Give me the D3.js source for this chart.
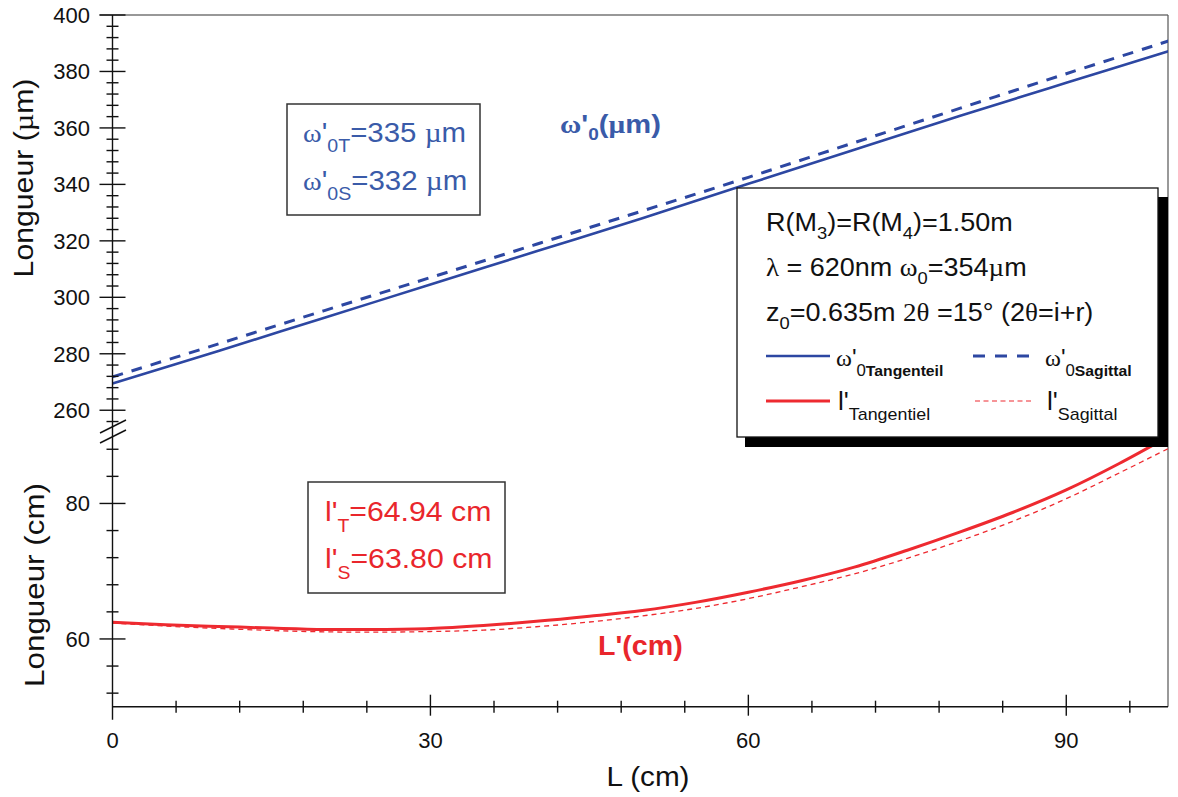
<!DOCTYPE html>
<html><head><meta charset="utf-8">
<script src="https://cdn.jsdelivr.net/npm/d3@7"></script>
<style>body{margin:0;background:#fff}svg{display:block}text{font-family:"Liberation Sans",Arial,sans-serif}</style>
</head><body>
<svg id="c" width="1178" height="797"></svg>
<script>
// ---- data ----
const Lw = [0,10,20,30,40,50,60,70,80,90,100];
const wTang = [269.5,281.0,292.8,304.5,316.3,328.0,340.2,352.3,364.3,376.0,387.6];
const wSag  = [271.8,283.5,295.3,307.0,318.8,330.6,342.5,354.8,367.0,379.2,391.2];
const Ll = [0,5,10,15,20,25,30,35,40,45,50,55,60,65,70,75,80,85,90,95,100];
const lTang = [62.45,62.1,61.85,61.6,61.4,61.4,61.55,62.0,62.6,63.35,64.2,65.4,66.9,68.6,70.6,73.1,75.8,78.7,82.0,85.9,90.2];
const lSag  = [62.35,61.9,61.55,61.25,61.05,61.0,61.1,61.3,61.8,62.5,63.4,64.5,65.95,67.7,69.6,71.9,74.5,77.4,80.7,84.5,88.4];
const xMajor = [0,30,60,90];
const xMinor = [6,12,18,24,36,42,48,54,66,72,78,84,96];
const yUMajor = [260,280,300,320,340,360,380,400];
const yUMinor = [256,264,268,272,276,284,288,292,296,304,308,312,316,324,328,332,336,344,348,352,356,364,368,372,376,384,388,392,396];
const yLMajor = [60,80];
const yLMinor = [52,56,64,68,72,76,84,88];

const BLUE = "#2d47a2", BLUET = "#3a5ba9", RED = "#ee2a30", REDT = "#e9262c";
const svg = d3.select("#c");
const x = d3.scaleLinear([0,99.6],[112.5,1168]);
const yU = d3.scaleLinear([253,400],[430,15]);
const yL = d3.scaleLinear([50,90.4],[706.7,433]);
const X0 = x(0), X1 = x(99.6), YT = yU(400), YB = yL(50);

svg.append("defs").append("clipPath").attr("id","pc").append("rect")
  .attr("x",X0).attr("y",YT).attr("width",X1-X0).attr("height",YB-YT);

// frame
svg.append("line").attr("x1",X0-13).attr("x2",X1).attr("y1",YT).attr("y2",YT).attr("stroke","#333").attr("stroke-width",1.2);
svg.append("line").attr("x1",X1).attr("x2",X1).attr("y1",YT).attr("y2",YB).attr("stroke","#555").attr("stroke-width",1.2);

// curves
const g = svg.append("g").attr("clip-path","url(#pc)");
const lineU = d3.line().x(d=>x(d[0])).y(d=>yU(d[1])).curve(d3.curveCatmullRom);
const lineL = d3.line().x(d=>x(d[0])).y(d=>yL(d[1])).curve(d3.curveCatmullRom);
g.append("path").attr("d",lineU(Lw.map((l,i)=>[l,wTang[i]]))).attr("fill","none").attr("stroke",BLUE).attr("stroke-width",2.6);
g.append("path").attr("d",lineU(Lw.map((l,i)=>[l,wSag[i]]))).attr("fill","none").attr("stroke",BLUE).attr("stroke-width",3).attr("stroke-dasharray","11,9");
g.append("path").attr("d",lineL(Ll.map((l,i)=>[l,lTang[i]]))).attr("fill","none").attr("stroke",RED).attr("stroke-width",3);
g.append("path").attr("d",lineL(Ll.map((l,i)=>[l,lSag[i]]))).attr("fill","none").attr("stroke",RED).attr("stroke-width",1.3).attr("stroke-dasharray","5,4");

// axes
const ax = svg.append("g").attr("stroke","#111").attr("stroke-width",1.4);
ax.append("line").attr("x1",X0).attr("x2",X0).attr("y1",YT).attr("y2",YB+13);
ax.append("line").attr("x1",X0).attr("x2",X1).attr("y1",YB).attr("y2",YB);
yUMajor.forEach(v=>ax.append("line").attr("x1",X0-13).attr("x2",X0+13).attr("y1",yU(v)).attr("y2",yU(v)));
yUMinor.forEach(v=>ax.append("line").attr("x1",X0-6).attr("x2",X0+6).attr("y1",yU(v)).attr("y2",yU(v)));
yLMajor.forEach(v=>ax.append("line").attr("x1",X0-13).attr("x2",X0+13).attr("y1",yL(v)).attr("y2",yL(v)));
yLMinor.forEach(v=>ax.append("line").attr("x1",X0-6).attr("x2",X0+6).attr("y1",yL(v)).attr("y2",yL(v)));
xMajor.filter(v=>v>0).forEach(v=>ax.append("line").attr("x1",x(v)).attr("x2",x(v)).attr("y1",YB-12).attr("y2",YB+9));
xMinor.forEach(v=>ax.append("line").attr("x1",x(v)).attr("x2",x(v)).attr("y1",YB-6).attr("y2",YB+6));
// break marks
ax.append("line").attr("x1",100).attr("y1",433).attr("x2",126).attr("y2",420);
ax.append("line").attr("x1",100).attr("y1",443).attr("x2",126).attr("y2",430);

const tl = svg.append("g").attr("font-size",22).attr("fill","#111");
yUMajor.forEach(v=>tl.append("text").attr("x",90).attr("y",yU(v)+8).attr("text-anchor","end").text(v));
yLMajor.forEach(v=>tl.append("text").attr("x",90).attr("y",yL(v)+8).attr("text-anchor","end").text(v));
xMajor.forEach(v=>tl.append("text").attr("x",x(v)).attr("y",748).attr("text-anchor","middle").text(v));

const t1 = svg.append("text").attr("transform","translate(33,178) rotate(-90) scale(1.08,1)").attr("text-anchor","middle").attr("font-size",28).attr("fill","#111");
t1.append("tspan").text("Longueur (");
t1.append("tspan").attr("font-family","Liberation Serif").text("µ");
t1.append("tspan").text("m)");
svg.append("text").attr("transform","translate(44,585) rotate(-90) scale(1.12,1)").attr("text-anchor","middle").attr("font-size",28).attr("fill","#111").text("Longueur (cm)");
svg.append("text").attr("transform","translate(648,786) scale(1.1,1)").attr("text-anchor","middle").attr("font-size",27).attr("fill","#111").text("L (cm)");

// helper for rich text (sx = horizontal stretch)
function rich(sel, x0, y0, parts, attrs, sx){
  const t = sel.append("text").attr("x",0).attr("y",0)
    .attr("transform",`translate(${x0},${y0}) scale(${sx||1},1)`);
  Object.entries(attrs||{}).forEach(([k,v])=>t.attr(k,v));
  parts.forEach(p=>{
    const s = t.append("tspan").text(p.t);
    if(p.dy) s.attr("dy",p.dy);
    if(p.fs) s.attr("font-size",p.fs);
    if(p.ff) s.attr("font-family",p.ff);
    if(p.fw) s.attr("font-weight",p.fw);
  });
  return t;
}
const SERIF = "Liberation Serif";

// curve labels
rich(svg,560,133,[{t:"ω",ff:SERIF},{t:"'"},{t:"0",fs:17,dy:7},{t:"(",dy:-7},{t:"µ",ff:SERIF},{t:"m)"}],{"font-size":26,"font-weight":"bold","fill":BLUET},1.12);
rich(svg,598,655,[{t:"L'(cm)"}],{"font-size":27,"font-weight":"bold","fill":REDT},1.06);

// top-left box
svg.append("rect").attr("x",287).attr("y",104).attr("width",193).attr("height",111).attr("fill","#fff").attr("stroke","#333").attr("stroke-width",1.5);
rich(svg,303,142,[{t:"ω",ff:SERIF,fs:26},{t:"'"},{t:"0T",fs:18,dy:10},{t:"=335 ",dy:-10},{t:"µ",ff:SERIF},{t:"m"}],{"font-size":27,"fill":BLUET},1.09);
rich(svg,303,190,[{t:"ω",ff:SERIF,fs:26},{t:"'"},{t:"0S",fs:18,dy:10},{t:"=332 ",dy:-10},{t:"µ",ff:SERIF},{t:"m"}],{"font-size":27,"fill":BLUET},1.09);

// bottom box
svg.append("rect").attr("x",308).attr("y",482).attr("width",197).attr("height",111).attr("fill","#fff").attr("stroke","#333").attr("stroke-width",1.5);
rich(svg,325,521,[{t:"l'"},{t:"T",fs:18,dy:11},{t:"=64.94 cm",dy:-11}],{"font-size":28,"fill":REDT},1.08);
rich(svg,325,568,[{t:"l'"},{t:"S",fs:18,dy:11},{t:"=63.80 cm",dy:-11}],{"font-size":28,"fill":REDT},1.08);

// legend
svg.append("rect").attr("x",745).attr("y",197).attr("width",423).attr("height",250).attr("fill","#000");
svg.append("rect").attr("x",737).attr("y",188).attr("width",421).attr("height",249).attr("fill","#fff").attr("stroke","#111").attr("stroke-width",1.3);
const lg = svg.append("g").attr("fill","#111");
rich(lg,766,231,[{t:"R(M"},{t:"3",fs:17,dy:8},{t:")=R(M",dy:-8},{t:"4",fs:17,dy:8},{t:")=1.50m",dy:-8}],{"font-size":25},1.08);
rich(lg,766,276,[{t:"λ",ff:SERIF},{t:" = 620nm "},{t:"ω",ff:SERIF},{t:"0",fs:17,dy:8},{t:"=354",dy:-8},{t:"µ",ff:SERIF},{t:"m"}],{"font-size":25},1.08);
rich(lg,766,321,[{t:"z"},{t:"0",fs:17,dy:8},{t:"=0.635m ",dy:-8},{t:"2θ",ff:SERIF},{t:" =15° (2"},{t:"θ",ff:SERIF},{t:"=i+r)"}],{"font-size":25},1.08);
// legend samples
lg.append("line").attr("x1",766).attr("x2",830).attr("y1",356).attr("y2",356).attr("stroke",BLUE).attr("stroke-width",2.6);
lg.append("line").attr("x1",973).attr("x2",1031).attr("y1",356).attr("y2",356).attr("stroke",BLUE).attr("stroke-width",3).attr("stroke-dasharray","12,10");
lg.append("line").attr("x1",766).attr("x2",830).attr("y1",401).attr("y2",401).attr("stroke",RED).attr("stroke-width",3);
lg.append("line").attr("x1",975).attr("x2",1031).attr("y1",401).attr("y2",401).attr("stroke",RED).attr("stroke-width",1.2).attr("stroke-dasharray","5,3.5");
rich(lg,836,366,[{t:"ω",ff:SERIF},{t:"'"},{t:"0",fs:16,dy:10},{t:"Tangenteil",fs:15,fw:"bold"}],{"font-size":23},1.05);
rich(lg,1045,366,[{t:"ω",ff:SERIF},{t:"'"},{t:"0",fs:16,dy:10},{t:"Sagittal",fs:15,fw:"bold"}],{"font-size":23},1.05);
rich(lg,838,410,[{t:"l'"},{t:"Tangentiel",fs:17,dy:10}],{"font-size":25},1.05);
rich(lg,1047,410,[{t:"l'"},{t:"Sagittal",fs:17,dy:10}],{"font-size":25},1.05);
</script>
</body></html>
